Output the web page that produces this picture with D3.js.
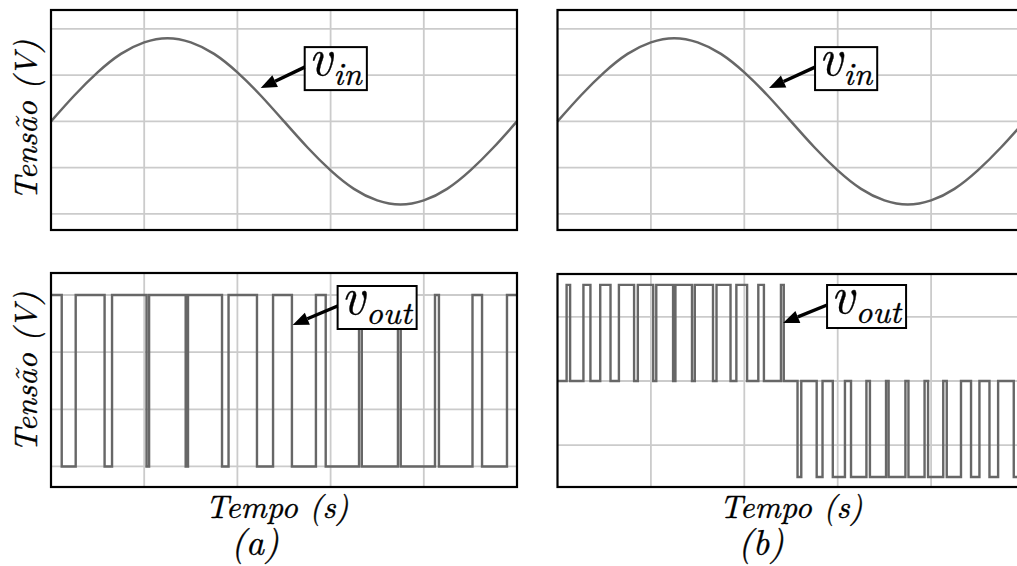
<!DOCTYPE html>
<html>
<head>
<meta charset="utf-8">
<script src="https://cdn.jsdelivr.net/npm/d3@7"></script>
<style>
  html, body { margin: 0; padding: 0; background: #fff; overflow: hidden; }
</style>
</head>
<body>
<svg id="fig" width="1017" height="566"></svg>
<script>
// ---- Time base (ms), one fundamental cycle per panel ----
const tempoDominio = [0, 20];
const tempoGrade = [4, 8, 12, 16];

// ---- Input voltage v_in (V), sampled every 1 ms ----
const vinTempo = [0, 1, 2, 3, 4, 5, 6, 7, 8, 9, 10, 11, 12, 13, 14, 15, 16, 17, 18, 19, 20];
const vinValores = [0, 56, 106, 146, 171, 180, 171, 146, 106, 56, 0,
                    -56, -106, -146, -171, -180, -171, -146, -106, -56, 0];
const vinGrade = [-200, -100, 0, 100, 200];

// ---- (a) two-level output: switching instants (ms) and level after each one (V) ----
const comutA = [0, 0.46, 1.06, 2.30, 2.62, 4.10, 4.21, 5.78, 5.88, 7.34, 7.62, 8.84, 9.53,
                10.34, 11.37, 11.79, 13.22, 13.34, 14.89, 15.01, 16.48, 16.65, 18.09, 18.50, 19.57];
const nivelA = [300, -300, 300, -300, 300, -300, 300, -300, 300, -300, 300, -300, 300,
                -300, 300, -300, 300, -300, 300, -300, 300, -300, 300, -300, 300];
const voutAGrade = [-300, -100, 100, 300];

// ---- (b) three-level output: switching instants (ms) and level after each one (V) ----
const comutB = [0, 0.39, 0.54, 1.11, 1.41, 1.83, 2.27, 2.63, 3.28, 3.44, 4.10, 4.23, 4.95,
                5.05, 5.76, 5.88, 6.66, 6.81, 7.41, 7.66, 8.12, 8.60, 8.84, 9.57, 9.69,
                10.28, 10.44, 11.10, 11.35, 11.79, 12.31, 12.57, 13.23, 13.38, 14.07, 14.18,
                14.90, 15.03, 15.72, 15.87, 16.52, 16.67, 17.28, 17.71, 18.07, 18.50, 18.87, 19.54];
const nivelB = [0, 300, 0, 300, 0, 300, 0, 300, 0, 300, 0, 300, 0,
                300, 0, 300, 0, 300, 0, 300, 0, 300, 0, 300, 0,
                -300, 0, -300, 0, -300, 0, -300, 0, -300, 0, -300,
                0, -300, 0, -300, 0, -300, 0, -300, 0, -300, 0, -300];
const voutBGrade = [-200, 0, 200];

// ---- Text ----
const rotuloY = "Tensão (V)";
const rotuloX = "Tempo (s)";
const legendas = ["(a)", "(b)"];

const fonte = "'Latin Modern Roman', 'Liberation Serif', serif";
const corTraco = "#676767";
const corGrade = "#cbcbcb";

const svg = d3.select("#fig");

function texto(sel) {
  return sel.attr("font-family", fonte).attr("font-style", "italic")
    .attr("fill", "#000").attr("stroke", "#000").attr("stroke-width", 0.35);
}

// Panel frames in page pixels
const paineis = [
  { id: "a-in",  px: [51, 517],       py: [10, 230],  yDom: [-235, 241], grade: vinGrade },
  { id: "b-in",  px: [557.5, 1024.5], py: [10, 230],  yDom: [-235, 241], grade: vinGrade },
  { id: "a-out", px: [51, 517],       py: [273, 487], yDom: [-372, 377], grade: voutAGrade },
  { id: "b-out", px: [557.5, 1024.5], py: [274, 487], yDom: [-331, 334], grade: voutBGrade }
];

paineis.forEach(p => {
  p.x = d3.scaleLinear().domain(tempoDominio).range(p.px);
  p.y = d3.scaleLinear().domain(p.yDom).range([p.py[1], p.py[0]]);
  p.g = svg.append("g").attr("class", "painel " + p.id);

  // grid
  p.g.selectAll("line.gx").data(tempoGrade).join("line")
    .attr("x1", d => p.x(d)).attr("x2", d => p.x(d))
    .attr("y1", p.py[0]).attr("y2", p.py[1])
    .attr("stroke", corGrade).attr("stroke-width", 1.8);
  p.g.selectAll("line.gy").data(p.grade).join("line")
    .attr("x1", p.px[0]).attr("x2", p.px[1])
    .attr("y1", d => p.y(d)).attr("y2", d => p.y(d))
    .attr("stroke", corGrade).attr("stroke-width", 1.8);
});

// sine input on both top panels
[paineis[0], paineis[1]].forEach(p => {
  const linha = d3.line().x(d => p.x(d[0])).y(d => p.y(d[1])).curve(d3.curveNatural);
  p.g.append("path")
    .datum(vinTempo.map((t, i) => [t, vinValores[i]]))
    .attr("d", linha).attr("fill", "none")
    .attr("stroke", corTraco).attr("stroke-width", 2.5);
});

// PWM outputs
function degraus(tempos, niveis) {
  const pts = tempos.map((t, i) => [t, niveis[i]]);
  pts.push([tempoDominio[1], niveis[niveis.length - 1]]);
  return pts;
}
[[paineis[2], comutA, nivelA], [paineis[3], comutB, nivelB]].forEach(([p, t, n]) => {
  const linha = d3.line().x(d => p.x(d[0])).y(d => p.y(d[1])).curve(d3.curveStepAfter);
  p.g.append("path")
    .datum(degraus(t, n))
    .attr("d", linha).attr("fill", "none")
    .attr("stroke", corTraco).attr("stroke-width", 2.4);
});

// frames
paineis.forEach(p => {
  p.g.append("rect")
    .attr("x", p.px[0]).attr("y", p.py[0])
    .attr("width", p.px[1] - p.px[0]).attr("height", p.py[1] - p.py[0])
    .attr("fill", "none").attr("stroke", "#000").attr("stroke-width", 2.2);
});

// callouts: arrow tip anchored on the trace (data coords), box placed to its upper right
const chamadas = [
  { p: paineis[0], t: 9.0,  v: 72,  sub: "in",  dx: 44, dy: -21 },
  { p: paineis[1], t: 9.06, v: 72,  sub: "in",  dx: 46, dy: -21 },
  { p: paineis[2], t: 10.37, v: 195, sub: "out", dx: 45, dy: -19 },
  { p: paineis[3], t: 9.66, v: 181, sub: "out", dx: 44, dy: -18 }
];

chamadas.forEach(c => {
  const tx = c.p.x(c.t), ty = c.p.y(c.v);
  const g = c.p.g.append("g");
  const rot = texto(g.append("text")).attr("x", 0).attr("y", 0);
  rot.append("tspan").attr("font-size", 51).text("v");
  rot.append("tspan").attr("font-size", 33).attr("dy", 10).attr("dx", 1).text(c.sub);
  const w = rot.node().getComputedTextLength();
  const bx = tx + c.dx, boxH = 43, boxW = w + 10;
  const by = ty + c.dy - 20;
  rot.attr("x", bx + 4).attr("y", by + 28);
  g.insert("rect", "text")
    .attr("x", bx).attr("y", by).attr("width", boxW).attr("height", boxH)
    .attr("fill", "#fff").attr("stroke", "#000").attr("stroke-width", 2);
  // arrow from box edge to the trace
  const sx = bx, sy = ty + c.dy;
  const ang = Math.atan2(ty - sy, tx - sx);
  const L = 16, W = 6.5;
  const baseX = tx - L * Math.cos(ang), baseY = ty - L * Math.sin(ang);
  g.append("line")
    .attr("x1", sx).attr("y1", sy).attr("x2", baseX).attr("y2", baseY)
    .attr("stroke", "#000").attr("stroke-width", 3.4);
  const nx = -Math.sin(ang), ny = Math.cos(ang);
  g.append("path")
    .attr("d", `M${tx},${ty}L${baseX + nx * W},${baseY + ny * W}L${baseX - nx * W},${baseY - ny * W}Z`)
    .attr("fill", "#000");
});

// axis titles
[120, 372].forEach(cy => {
  texto(svg.append("text")).attr("transform", `translate(37,${cy}) rotate(-90)`)
    .attr("text-anchor", "middle").attr("font-size", 32).text(rotuloY);
});

[[277, 255, legendas[0]], [791, 761, legendas[1]]].forEach(([xt, xl, leg]) => {
  texto(svg.append("text")).attr("x", xt).attr("y", 518)
    .attr("text-anchor", "middle").attr("font-size", 32).text(rotuloX);
  texto(svg.append("text")).attr("x", xl).attr("y", 555)
    .attr("text-anchor", "middle").attr("font-size", 36).text(leg);
});
</script>
</body>
</html>
